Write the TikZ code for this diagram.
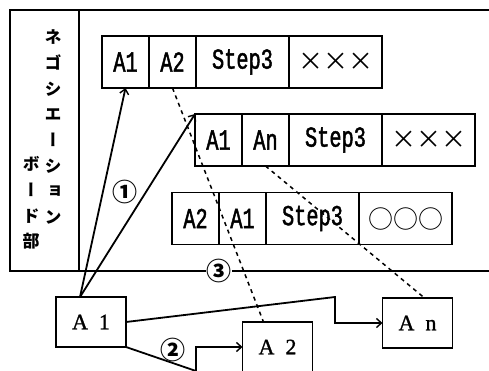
\documentclass[tikz,border=0pt]{standalone}
\usepackage{fontspec}
\usepackage{tikz}
\usetikzlibrary{arrows.meta, positioning}
\newfontfamily\cellfont[FakeStretch=0.7,FakeBold=1.5]{Liberation Mono}
\newfontfamily\boxfont[FakeBold=1.2]{Liberation Serif}
\newfontfamily\cjk{Noto Sans CJK JP}
\newfontfamily\cjkv[RawFeature=+vert]{Noto Sans CJK JP}

\begin{document}
\begin{tikzpicture}[x=1pt, y=-1pt,
  cell/.style={rectangle, draw, line width=1.4pt, outer sep=0pt, inner sep=0pt, minimum height=52pt, font=\cellfont\fontsize{29}{29}\selectfont},
  short/.style={cell, minimum width=47pt},
  long/.style={cell, minimum width=93pt},
  box/.style={rectangle, draw, line width=1.4pt, outer sep=0pt, minimum width=70pt, minimum height=50pt, font=\boxfont\fontsize{22}{22}\selectfont},
  num/.style={inner sep=0.5pt, font=\cjk\bfseries\fontsize{25}{25}\selectfont},
  vtext/.style={align=center, inner sep=0pt, font=\cjkv\bfseries\fontsize{17}{25.7}\selectfont},
  frame/.style={line width=1.5pt},
  arrow/.style={->, >={Straight Barb[length=5pt, width=9pt, line width=1.4pt]}, line width=1.8pt},
  dashline/.style={line width=1.5pt, dash pattern=on 4pt off 4pt}
]
  \useasboundingbox (0,0) rectangle (489,371);

  % board frame
  \draw[frame] (489,10) -- (10,10) -- (10,271) -- (489,271);
  \draw[frame] (79,10) -- (79,271);
  \node[vtext] (vt1) at (53,127) {ネ\\ゴ\\シ\\エ\\ー\\シ\\ョ\\ン};
  \node[vtext] (vt2) at (31,203) {ボ\\ー\\ド\\部};

  % rows on the board
  \node[short] (r1a) at (125.5,62) {A1};
  \node[short, right=0pt of r1a] (r1b) {A2};
  \node[long, right=0pt of r1b] (r1c) {Step3};
  \node[long, right=0pt of r1c] (r1d) {\cjk\fontsize{25}{25}\selectfont ×××};

  \node[short] (r2a) at (218.5,140) {A1};
  \node[short, right=0pt of r2a] (r2b) {An};
  \node[long, right=0pt of r2b] (r2c) {Step3};
  \node[long, right=0pt of r2c] (r2d) {\cjk\fontsize{25}{25}\selectfont ×××};

  \node[short] (r3a) at (195.5,218.5) {A2};
  \node[short, right=0pt of r3a] (r3b) {A1};
  \node[long, right=0pt of r3b] (r3c) {Step3};
  \node[long, right=0pt of r3c] (r3d) {\cjk\fontsize{25}{25}\selectfont ○○○};

  % agents
  \node[box] (pa1) at (91,322) {A\enspace 1};
  \node[box] (pa2) at (277.5,347) {A\enspace 2};
  \node[box] (pan) at (417.5,323) {A\enspace n};

  \draw[arrow] ([xshift=-11pt]pa1.north) -- (r1a.south);
  \draw[arrow] ([xshift=-11pt]pa1.north) -- (r2a.north west);

  \coordinate (bendn) at (335,297);
  \coordinate (bend2) at (196,371);
  \draw[arrow] (pa1.east) -- (bendn) |- (pan.west);
  \draw[arrow] (pa1.south east) -- (bend2) |- (pa2.west);

  \draw[dashline] (r1b.south) -- ([xshift=-14pt]pa2.north);
  \draw[dashline] (r2b.south) -- ([xshift=7pt]pan.north);

  \node[num] (n1) at (125,192) {①};
  \node[num] (n2) at (173,350) {②};
  \node[num, fill=white] (n3) at (219,271) {③};
\end{tikzpicture}
\end{document}
